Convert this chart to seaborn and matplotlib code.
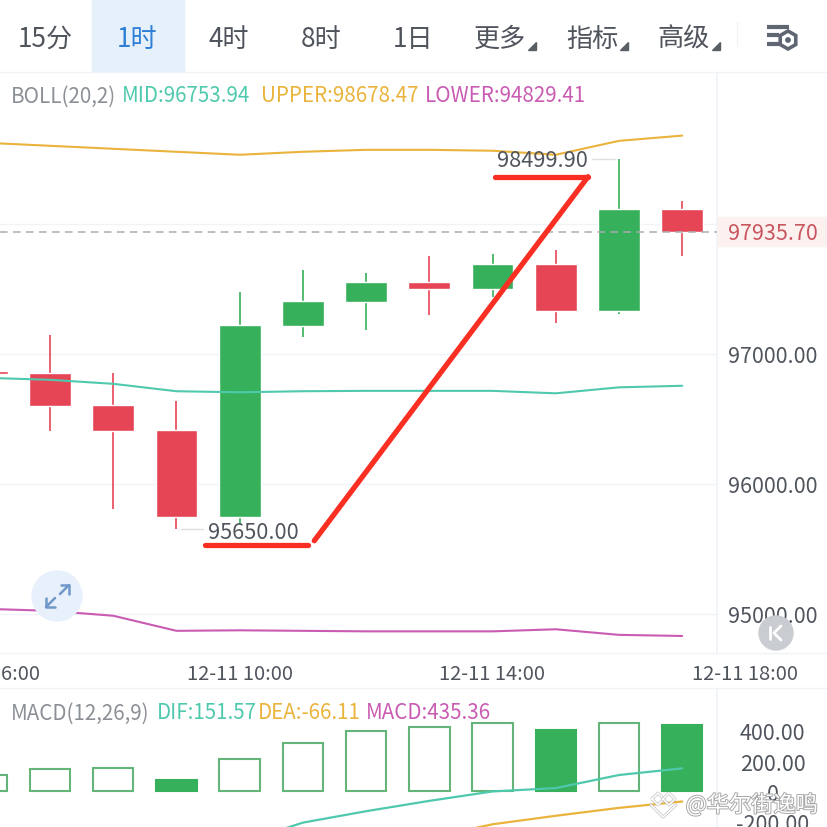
import matplotlib
matplotlib.use("Agg")
import matplotlib.patheffects as pe
import matplotlib.pyplot as plt
from matplotlib.patches import Circle, Polygon, Rectangle, RegularPolygon
import seaborn as sns

# hourly candles, index 3 is 12-11 10:00
idx = [-1, 0, 1, 2, 3, 4, 5, 6, 7, 8, 9, 10]
opens = [96869, 96850, 96604, 96415, 95746, 97215, 97400, 97554, 97500, 97692, 97331, 98115]
closes = [96846, 96596, 96404, 95746, 97223, 97408, 97554, 97500, 97692, 97331, 98115, 97935.7]
highs = [96900, 97146, 96854, 96638, 97477, 97646, 97623, 97754, 97769, 97800, 98499.9, 98177]
lows = [96800, 96408, 95808, 95650, 95685, 97131, 97185, 97300, 97438, 97238, 97308, 97754]

boll_upper = [98623, 98600, 98577, 98554, 98531, 98554, 98569, 98569, 98562, 98531, 98638, 98678.47]
boll_mid = [96815, 96800, 96769, 96712, 96704, 96712, 96715, 96715, 96715, 96696, 96742, 96753.94]
boll_lower = [95038, 95023, 94985, 94869, 94873, 94869, 94865, 94865, 94865, 94881, 94838, 94829.41]

macd = [109, 150, 153, 74, 211, 320, 397, 425, 451, 403, 451, 435.36]
dif_idx = [3, 4, 5, 6, 7, 8, 9, 10]
dif = [-340, -205, -130, -62, 0, 22, 108, 151.57]
dea_idx = [6, 7, 8, 9, 10]
dea = [-305, -216, -160, -108, -66.11]

price_ticks = [98000, 97000, 96000, 95000]
price_labels = ["", "97000.00", "96000.00", "95000.00"]
macd_ticks = [400, 200, 0, -200]
macd_labels = ["400.00", "200.00", "0", "-200.00"]
time_ticks = [-1, 3, 7, 11]
time_labels = ["12-11 06:00", "12-11 10:00", "12-11 14:00", "12-11 18:00"]
last_price = 97935.7
tabs = ["15分", "1时", "4时", "8时", "1日", "更多", "指标", "高级"]

# hand drawn red strokes, in candle index / price
stroke_low_x, stroke_low_y = [2.45, 4.08], [95531, 95531]
stroke_rise_x, stroke_rise_y = [4.18, 8.51], [95562, 98362]
stroke_high_x, stroke_high_y = [7.04, 8.51], [98362, 98362]

GREEN = "#36b05a"
RED = "#e64555"
TEAL = "#4fc9ad"
YELLOW = "#eab33c"
MAGENTA = "#c95bb3"
GREY = "#8b8f96"
DARK = "#50555d"
LINE = "#f0f3f8"

sns.set_theme(style="white")
plt.rcParams["font.family"] = ["Noto Sans CJK SC", "DejaVu Sans"]
plt.rcParams["axes.unicode_minus"] = False

fig = plt.figure(figsize=(8.28, 8.28), dpi=100)
W = 828.0


def panel(top, bottom, right=717):
    return fig.add_axes([0, 1 - bottom / W, right / W, (bottom - top) / W])


def style_panel(ax, ticks, labels):
    ax.set_xlim(-0.791, 10.55)
    ax.set_xticks([])
    ax.yaxis.tick_right()
    ax.set_yticks(ticks)
    ax.set_yticklabels(labels, fontsize=15.5, color=DARK, ha="center")
    ax.tick_params(axis="y", length=0, pad=40)
    ax.set_xlabel("")
    ax.set_ylabel("")
    for s in ax.spines.values():
        s.set_visible(False)
    ax.spines["right"].set_visible(True)
    ax.spines["right"].set_color(LINE)


# price panel
ax = panel(74.8, 654.8)
for i, o, c, h, l in zip(idx, opens, closes, highs, lows):
    col = GREEN if c >= o else RED
    ax.vlines(i, l, h, color=col, lw=1.2, zorder=3)
    ax.bar(i, abs(c - o), bottom=min(o, c), width=0.66, color=col, zorder=4)
sns.lineplot(x=idx, y=boll_upper, ax=ax, color=YELLOW, lw=1.5, sort=False, errorbar=None, zorder=5)
sns.lineplot(x=idx, y=boll_mid, ax=ax, color=TEAL, lw=1.5, sort=False, errorbar=None, zorder=5)
sns.lineplot(x=idx, y=boll_lower, ax=ax, color=MAGENTA, lw=1.5, sort=False, errorbar=None, zorder=5)
ax.set_ylim(94692.3, 99153.8)
style_panel(ax, price_ticks, price_labels)
ax.grid(axis="y", color=LINE, lw=1)
ax.set_axisbelow(True)
ax.axhline(last_price, color="#a9acb0", lw=1.1, dashes=(5, 3.5), zorder=6)

for x, y in [(stroke_low_x, stroke_low_y), (stroke_rise_x, stroke_rise_y), (stroke_high_x, stroke_high_y)]:
    ax.plot(x, y, color="#fa2f24", lw=3.8, solid_capstyle="round", zorder=8)

# high / low labels
ax.text(8.5, 98490, "98499.90", fontsize=15.7, color=DARK, ha="right", va="center", zorder=9)
ax.plot([8.58, 8.94], [98499.9] * 2, color="#dcdfe3", lw=1, zorder=2)
ax.text(2.5, 95632, "95650.00", fontsize=15.7, color=DARK, ha="left", va="center", zorder=9)
ax.plot([2.07, 2.42], [95650] * 2, color="#dcdfe3", lw=1, zorder=2)

# macd panel
ax2 = panel(690.8, 828.8)
prev = None
for i, m in zip(idx, macd):
    falling = prev is not None and m < prev
    ax2.bar(i, m, width=0.64, facecolor=GREEN if falling else "white",
            edgecolor=GREEN if falling else "#63b677", lw=1.5, zorder=2)
    prev = m
sns.lineplot(x=dif_idx, y=dif, ax=ax2, color=TEAL, lw=1.6, sort=False, errorbar=None, zorder=4)
sns.lineplot(x=dea_idx, y=dea, ax=ax2, color=YELLOW, lw=1.6, sort=False, errorbar=None, zorder=4)
ax2.set_ylim(-239, 668)
style_panel(ax2, macd_ticks, macd_labels)

# overlay in pixels for the app chrome
ov = fig.add_axes([0, 0, 1, 1], zorder=10)
ov.set_xlim(0, 828)
ov.set_ylim(828, 0)
ov.axis("off")
ov.patch.set_alpha(0)

ov.add_patch(Rectangle((92, 1), 92, 72, color="#e5f0fb", zorder=1))
tab_x = [45, 137, 229, 321, 413, 500, 592, 684]
for i, (t, x) in enumerate(zip(tabs, tab_x)):
    ov.text(x, 39.5, t, fontsize=18.8, color="#2f7fd6" if i == 1 else DARK, ha="center", va="center", zorder=2)
for x in [533, 625, 717]:
    ov.add_patch(Polygon([[x - 5, 51], [x + 3, 51], [x + 3, 43]], color="#5a5f66"))
ov.plot([737, 737], [23, 47], color=LINE, lw=1)
for y_, x1 in [(28, 789), (36, 779), (45, 779)]:
    ov.plot([767, x1], [y_, y_], color="#5f6672", lw=3, solid_capstyle="butt")
ov.add_patch(RegularPolygon((788, 41), 6, radius=9, fill=False, edgecolor="#5f6672", lw=2.6))
ov.add_patch(Circle((788, 41), 2.2, color="#5f6672"))

for y_ in [73, 654, 689]:
    ov.plot([0, 828], [y_, y_], color=LINE, lw=1, zorder=1)

# indicator captions
for x, y, s, c in [
    (11, 96.5, "BOLL(20,2)", GREY), (122, 96.5, "MID:96753.94", TEAL),
    (261, 96.5, "UPPER:98678.47", YELLOW), (425, 96.5, "LOWER:94829.41", MAGENTA),
    (11, 713.5, "MACD(12,26,9)", GREY), (157, 713.5, "DIF:151.57", TEAL),
    (258, 713.5, "DEA:-66.11", YELLOW), (366, 713.5, "MACD:435.36", MAGENTA),
]:
    ov.text(x, y, s, fontsize=14.8, color=c, ha="left", va="center")

# last price tag
ov.add_patch(Rectangle((718, 218), 110, 29, color="#fdf1ef", zorder=3))
ov.text(773, 234, f"{last_price:.2f}", fontsize=15.5, color="#c9555f", ha="center", va="center", zorder=4)

# time labels
for t, s in zip(time_ticks, time_labels):
    ov.text(50 + 63.2 * t, 674.5, s, fontsize=14.5, color=DARK, ha="center", va="center")

# zoom buttons
ov.add_patch(Circle((57, 597), 25, color="#e8f1fb", zorder=3))
ov.plot([60, 69], [595, 586], color="#6f97c9", lw=1.8, zorder=4)
ov.plot([61, 69, 69], [586, 586, 595], color="#6f97c9", lw=1.8, zorder=4)
ov.plot([46, 55], [608, 599], color="#6f97c9", lw=1.8, zorder=4)
ov.plot([46, 46, 55], [599, 608, 608], color="#6f97c9", lw=1.8, zorder=4)
ov.add_patch(Circle((776, 634), 17, color="#c9ccd0", zorder=3))
ov.plot([770, 770], [628, 640], color="white", lw=2, zorder=4)
ov.plot([781, 774, 781], [627, 634, 641], color="white", lw=2, zorder=4)

# watermark
halo = [pe.withStroke(linewidth=1.4, foreground="#a8a8a8")]
ov.text(818, 806, "@华尔街逸鸣", fontsize=16, color="white", ha="right", va="center",
        path_effects=halo, zorder=12)
for cx in [658, 669]:
    ov.plot([cx - 6, cx, cx + 6, cx, cx - 6], [800, 794, 800, 806, 800], color="white", lw=1.2, zorder=12,
            path_effects=[pe.withStroke(linewidth=2, foreground="#b4b4b4")])
ov.plot([651, 663, 676], [806, 818, 806], color="white", lw=1.2, zorder=12,
        path_effects=[pe.withStroke(linewidth=2, foreground="#b4b4b4")])

fig.savefig("out.png", dpi=100, facecolor="white")
